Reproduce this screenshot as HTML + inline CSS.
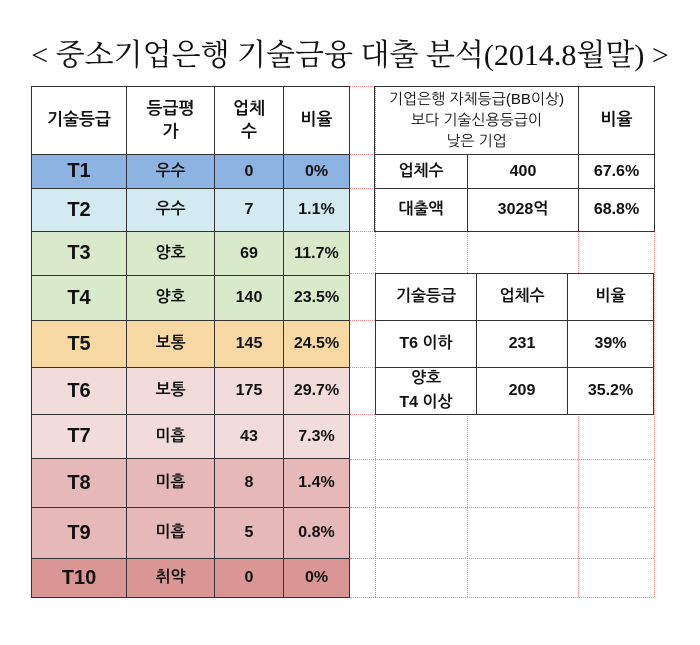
<!DOCTYPE html>
<html><head><meta charset="utf-8"><style>
body{margin:0;width:700px;height:645px;background:#fff;position:relative;overflow:hidden;font-family:"Liberation Sans","NanumGothic","Noto Sans CJK KR",sans-serif;}
.c{position:absolute;box-sizing:border-box;border:1px solid #333;display:flex;align-items:center;justify-content:center;text-align:center;font-weight:bold;font-size:16px;color:#111;line-height:1.35;}
.t{font-size:20px;}
.d{position:absolute;border-color:#e88;border-style:dotted;border-width:0;}
.title{position:absolute;left:0;top:30px;width:700px;text-align:center;font-family:"Liberation Serif","Noto Serif CJK SC",serif;font-size:30px;color:#111;}
</style></head><body>
<div class="title">&lt; 중소기업은행 기술금융 대출 분석(2014.8월말) &gt;</div>

<div class="d" style="left:375px;top:86px;width:0;height:511px;border-left-width:1px"></div>
<div class="d" style="left:467px;top:231px;width:0;height:42px;border-left-width:1px"></div>
<div class="d" style="left:578px;top:231px;width:0;height:42px;border-left-width:1px"></div>
<div class="d" style="left:467px;top:414px;width:0;height:183px;border-left-width:1px"></div>
<div class="d" style="left:578px;top:414px;width:0;height:183px;border-left-width:1px"></div>
<div class="d" style="left:654px;top:231px;width:0;height:366px;border-left-width:1px"></div>
<div class="d" style="left:350px;top:86px;width:25px;border-top-width:1px"></div>
<div class="d" style="left:350px;top:154px;width:25px;border-top-width:1px"></div>
<div class="d" style="left:350px;top:188px;width:25px;border-top-width:1px"></div>
<div class="d" style="left:350px;top:231px;width:25px;border-top-width:1px"></div>
<div class="d" style="left:350px;top:273px;width:304px;border-top-width:1px"></div>
<div class="d" style="left:350px;top:320px;width:25px;border-top-width:1px"></div>
<div class="d" style="left:350px;top:367px;width:25px;border-top-width:1px"></div>
<div class="d" style="left:350px;top:414px;width:25px;border-top-width:1px"></div>
<div class="d" style="left:350px;top:459px;width:304px;border-top-width:1px"></div>
<div class="d" style="left:350px;top:507px;width:304px;border-top-width:1px"></div>
<div class="d" style="left:350px;top:558px;width:304px;border-top-width:1px"></div>
<div class="d" style="left:350px;top:597px;width:304px;border-top-width:1px"></div>

<div class="c" style="left:31px;top:86px;width:96px;height:69px;font-size:17px">기술등급</div>
<div class="c" style="left:126px;top:86px;width:89px;height:69px;font-size:17px">등급평<br>가</div>
<div class="c" style="left:214px;top:86px;width:70px;height:69px;font-size:17px">업체<br>수</div>
<div class="c" style="left:283px;top:86px;width:67px;height:69px;font-size:17px">비율</div>

<div class="c t" style="left:31px;top:154px;width:96px;height:35px;background:#8db3e2">T1</div>
<div class="c" style="left:126px;top:154px;width:89px;height:35px;background:#8db3e2">우수</div>
<div class="c" style="left:214px;top:154px;width:70px;height:35px;background:#8db3e2">0</div>
<div class="c" style="left:283px;top:154px;width:67px;height:35px;background:#8db3e2">0%</div>

<div class="c t" style="left:31px;top:188px;width:96px;height:44px;background:#d3eaf0">T2</div>
<div class="c" style="left:126px;top:188px;width:89px;height:44px;background:#d3eaf0">우수</div>
<div class="c" style="left:214px;top:188px;width:70px;height:44px;background:#d3eaf0">7</div>
<div class="c" style="left:283px;top:188px;width:67px;height:44px;background:#d3eaf0">1.1%</div>

<div class="c t" style="left:31px;top:231px;width:96px;height:45px;background:#d9eacb">T3</div>
<div class="c" style="left:126px;top:231px;width:89px;height:45px;background:#d9eacb">양호</div>
<div class="c" style="left:214px;top:231px;width:70px;height:45px;background:#d9eacb">69</div>
<div class="c" style="left:283px;top:231px;width:67px;height:45px;background:#d9eacb">11.7%</div>

<div class="c t" style="left:31px;top:275px;width:96px;height:46px;background:#d9eacb">T4</div>
<div class="c" style="left:126px;top:275px;width:89px;height:46px;background:#d9eacb">양호</div>
<div class="c" style="left:214px;top:275px;width:70px;height:46px;background:#d9eacb">140</div>
<div class="c" style="left:283px;top:275px;width:67px;height:46px;background:#d9eacb">23.5%</div>

<div class="c t" style="left:31px;top:320px;width:96px;height:48px;background:#f8d9a4">T5</div>
<div class="c" style="left:126px;top:320px;width:89px;height:48px;background:#f8d9a4">보통</div>
<div class="c" style="left:214px;top:320px;width:70px;height:48px;background:#f8d9a4">145</div>
<div class="c" style="left:283px;top:320px;width:67px;height:48px;background:#f8d9a4">24.5%</div>

<div class="c t" style="left:31px;top:367px;width:96px;height:48px;background:#f2dbdb">T6</div>
<div class="c" style="left:126px;top:367px;width:89px;height:48px;background:#f2dbdb">보통</div>
<div class="c" style="left:214px;top:367px;width:70px;height:48px;background:#f2dbdb">175</div>
<div class="c" style="left:283px;top:367px;width:67px;height:48px;background:#f2dbdb">29.7%</div>

<div class="c t" style="left:31px;top:414px;width:96px;height:45px;background:#f2dbdb">T7</div>
<div class="c" style="left:126px;top:414px;width:89px;height:45px;background:#f2dbdb">미흡</div>
<div class="c" style="left:214px;top:414px;width:70px;height:45px;background:#f2dbdb">43</div>
<div class="c" style="left:283px;top:414px;width:67px;height:45px;background:#f2dbdb">7.3%</div>

<div class="c t" style="left:31px;top:458px;width:96px;height:50px;background:#e6b8b7">T8</div>
<div class="c" style="left:126px;top:458px;width:89px;height:50px;background:#e6b8b7">미흡</div>
<div class="c" style="left:214px;top:458px;width:70px;height:50px;background:#e6b8b7">8</div>
<div class="c" style="left:283px;top:458px;width:67px;height:50px;background:#e6b8b7">1.4%</div>

<div class="c t" style="left:31px;top:507px;width:96px;height:52px;background:#e6b8b7">T9</div>
<div class="c" style="left:126px;top:507px;width:89px;height:52px;background:#e6b8b7">미흡</div>
<div class="c" style="left:214px;top:507px;width:70px;height:52px;background:#e6b8b7">5</div>
<div class="c" style="left:283px;top:507px;width:67px;height:52px;background:#e6b8b7">0.8%</div>

<div class="c t" style="left:31px;top:558px;width:96px;height:40px;background:#da9694">T10</div>
<div class="c" style="left:126px;top:558px;width:89px;height:40px;background:#da9694">취약</div>
<div class="c" style="left:214px;top:558px;width:70px;height:40px;background:#da9694">0</div>
<div class="c" style="left:283px;top:558px;width:67px;height:40px;background:#da9694">0%</div>

<div class="c" style="left:374px;top:86px;width:205px;height:69px;font-weight:normal;font-size:15px;line-height:1.4">기업은행 자체등급(BB이상)<br>보다 기술신용등급이<br>낮은 기업</div>
<div class="c" style="left:578px;top:86px;width:77px;height:69px;font-size:17px">비율</div>
<div class="c" style="left:374px;top:154px;width:94px;height:35px">업체수</div>
<div class="c" style="left:467px;top:154px;width:112px;height:35px">400</div>
<div class="c" style="left:578px;top:154px;width:77px;height:35px">67.6%</div>
<div class="c" style="left:374px;top:188px;width:94px;height:44px">대출액</div>
<div class="c" style="left:467px;top:188px;width:112px;height:44px">3028억</div>
<div class="c" style="left:578px;top:188px;width:77px;height:44px">68.8%</div>

<div class="c" style="left:375px;top:273px;width:102px;height:48px">기술등급</div>
<div class="c" style="left:476px;top:273px;width:92px;height:48px">업체수</div>
<div class="c" style="left:567px;top:273px;width:87px;height:48px">비율</div>
<div class="c" style="left:375px;top:320px;width:102px;height:48px">T6 이하</div>
<div class="c" style="left:476px;top:320px;width:92px;height:48px">231</div>
<div class="c" style="left:567px;top:320px;width:87px;height:48px">39%</div>
<div class="c" style="left:375px;top:367px;width:102px;height:48px;line-height:1.5">양호<br>T4 이상</div>
<div class="c" style="left:476px;top:367px;width:92px;height:48px">209</div>
<div class="c" style="left:567px;top:367px;width:87px;height:48px">35.2%</div>
</body></html>
